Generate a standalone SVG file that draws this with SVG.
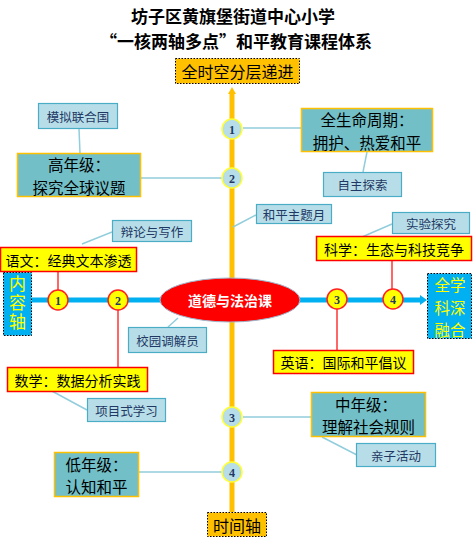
<svg xmlns="http://www.w3.org/2000/svg" width="475" height="543" viewBox="0 0 475 543">
<style>
text{font-family:"Noto Sans CJK SC","Liberation Sans",sans-serif;text-anchor:middle;dominant-baseline:central}
.title{font-size:17px;font-weight:bold;fill:#000}
.axisbox{fill:#FFC000;stroke:#000;stroke-width:1;stroke-dasharray:1.5 1.5}
.axistxt{font-size:16px;fill:#000}
.lb{fill:#B7DEE8;stroke:#4BACC6;stroke-width:1.2}
.lbt{font-size:12.5px;fill:#1F3864}
.tb{fill:#72BFC7;stroke:#FFC000;stroke-width:1.5}
.tbt{font-size:15.5px;fill:#000}
.yb{fill:#FFFF00;stroke:#FF0000;stroke-width:1.5}
.ybt{font-size:14px;fill:#000}
.bl{fill:#00B0F0;stroke:#000;stroke-width:1;stroke-dasharray:1.5 1.5}
.blt{font-size:15.5px;fill:#FFFF00}
.vt{font-size:17px;fill:#FFFF00;writing-mode:vertical-rl;text-orientation:upright;letter-spacing:2px}
.vc{fill:#B7DEE8;stroke:#FFFF33;stroke-width:1.5}
.hc{fill:#FFFF00;stroke:#FF2020;stroke-width:1.5}
.num{font-family:"Liberation Serif",serif;font-weight:bold;font-size:12px;fill:#1F3864}
.cl{stroke:#92CDDC;stroke-width:1.5;fill:none}
.rl{stroke:#FF0000;stroke-width:1.2;fill:none}
</style>
<rect width="475" height="543" fill="#fff"/>
<g id="title">
<text class="title" x="233" y="15.5">坊子区黄旗堡街道中心小学</text>
<text class="title" x="236" y="40.5">“一核两轴多点”和平教育课程体系</text>
</g>
<g id="connectors">
<line x1="232" y1="93" x2="232" y2="512" stroke="#FFC000" stroke-width="5"/>
<polygon points="232,87 228,94 236,94" fill="#FFC000"/>
<line x1="32" y1="300" x2="421" y2="300" stroke="#00B0F0" stroke-width="5"/>
<polygon points="427,300 420,295 420,305" fill="#00B0F0"/>
<line class="cl" x1="79" y1="129" x2="80" y2="153"/>
<line class="cl" x1="141" y1="178" x2="222" y2="178"/>
<line class="cl" x1="243" y1="128" x2="301" y2="128"/>
<line class="cl" x1="367" y1="152" x2="363" y2="172"/>
<line class="cl" x1="233" y1="227" x2="256" y2="215"/>
<line class="cl" x1="362" y1="237" x2="392" y2="224"/>
<line class="cl" x1="82" y1="244" x2="112" y2="232"/>
<line class="cl" x1="178" y1="318" x2="168" y2="327"/>
<line class="cl" x1="50" y1="390" x2="87" y2="410"/>
<line class="cl" x1="243" y1="417" x2="312" y2="417"/>
<line class="cl" x1="322" y1="437" x2="357" y2="455"/>
<line class="cl" x1="139" y1="472" x2="222" y2="472"/>
<line class="rl" x1="58" y1="272" x2="58" y2="290"/>
<line class="rl" x1="118" y1="310" x2="118" y2="367"/>
<line class="rl" x1="337" y1="309" x2="337" y2="350"/>
<line class="rl" x1="392" y1="261" x2="392" y2="289"/>
</g>
<g id="top-axis">
<rect class="axisbox" x="175.5" y="58.5" width="124" height="25"/>
<text class="axistxt" x="237.5" y="71">全时空分层递进</text>
</g>
<g id="bottom-axis">
<rect class="axisbox" x="207.5" y="512.5" width="59" height="24"/>
<text class="axistxt" x="237" y="524.5">时间轴</text>
</g>
<g id="content-axis">
<rect class="bl" x="3.5" y="272.5" width="28" height="63"/>
<text class="vt" x="17.5" y="304">内容轴</text>
</g>
<g id="fusion">
<rect class="bl" x="427.5" y="273.5" width="44" height="65"/>
<text class="blt" x="450" y="284">全学</text>
<text class="blt" x="450" y="306.5">科深</text>
<text class="blt" x="450" y="329">融合</text>
</g>
<g id="core">
<ellipse cx="230" cy="300" rx="70" ry="22" fill="#FF0000" stroke="#9FB6CC" stroke-width="1"/>
<text x="230" y="300" style="font-size:14px;font-weight:bold;fill:#fff">道德与法治课</text>
</g>
<g id="vc1"><circle class="vc" cx="232" cy="129" r="10"/><text class="num" x="232" y="129.5">1</text></g>
<g id="vc2"><circle class="vc" cx="232" cy="178" r="10"/><text class="num" x="232" y="178.5">2</text></g>
<g id="vc3"><circle class="vc" cx="232" cy="417" r="10"/><text class="num" x="232" y="417.5">3</text></g>
<g id="vc4"><circle class="vc" cx="232" cy="472" r="10"/><text class="num" x="232" y="472.5">4</text></g>
<g id="hc1"><circle class="hc" cx="58" cy="300" r="10"/><text class="num" x="58" y="300.5">1</text></g>
<g id="hc2"><circle class="hc" cx="118" cy="300" r="10"/><text class="num" x="118" y="300.5">2</text></g>
<g id="hc3"><circle class="hc" cx="337" cy="299" r="10"/><text class="num" x="337" y="299.5">3</text></g>
<g id="hc4"><circle class="hc" cx="393" cy="299" r="10"/><text class="num" x="393" y="299.5">4</text></g>
<g id="mnlhg"><rect class="lb" x="38.5" y="103.5" width="79" height="25"/><text class="lbt" x="78" y="116">模拟联合国</text></g>
<g id="high"><rect class="tb" x="17.5" y="153.5" width="123" height="43"/><text class="tbt" x="79" y="164">高年级：</text><text class="tbt" x="79" y="186.5">探究全球议题</text></g>
<g id="life"><rect class="tb" x="301.5" y="108.5" width="131" height="43"/><text class="tbt" x="367" y="119">全生命周期：</text><text class="tbt" x="367" y="141.5">拥护、热爱和平</text></g>
<g id="zzts"><rect class="lb" x="323.5" y="172.5" width="78" height="24"/><text class="lbt" x="362.5" y="184.5">自主探索</text></g>
<g id="hpztm"><rect class="lb" x="256.5" y="204.5" width="75" height="19"/><text class="lbt" x="294" y="214">和平主题月</text></g>
<g id="syts"><rect class="lb" x="392.5" y="212.5" width="77" height="21"/><text class="lbt" x="431" y="223">实验探究</text></g>
<g id="blxz"><rect class="lb" x="112.5" y="220.5" width="79" height="21"/><text class="lbt" x="152" y="231">辩论与写作</text></g>
<g id="yuwen"><rect class="yb" x="0.5" y="247.5" width="136" height="24"/><text class="ybt" x="68.5" y="259.5">语文：经典文本渗透</text></g>
<g id="kexue"><rect class="yb" x="316.5" y="236.5" width="155" height="24"/><text class="ybt" x="394" y="248.5">科学：生态与科技竞争</text></g>
<g id="xytjy"><rect class="lb" x="128.5" y="327.5" width="78" height="25"/><text class="lbt" x="167.5" y="340">校园调解员</text></g>
<g id="yingyu"><rect class="yb" x="273.5" y="350.5" width="140" height="23"/><text class="ybt" x="343.5" y="362">英语：国际和平倡议</text></g>
<g id="shuxue"><rect class="yb" x="7.5" y="367.5" width="140" height="24"/><text class="ybt" x="77.5" y="379.5">数学：数据分析实践</text></g>
<g id="xmsxx"><rect class="lb" x="87.5" y="398.5" width="78" height="23"/><text class="lbt" x="126.5" y="410">项目式学习</text></g>
<g id="mid"><rect class="tb" x="311.5" y="392.5" width="114" height="44"/><text class="tbt" x="366" y="403.5">中年级：</text><text class="tbt" x="368.5" y="426">理解社会规则</text></g>
<g id="qzhd"><rect class="lb" x="356.5" y="443.5" width="79" height="23"/><text class="lbt" x="396" y="455">亲子活动</text></g>
<g id="low"><rect class="tb" x="54.5" y="452.5" width="84" height="44"/><text class="tbt" x="96.5" y="463.5">低年级：</text><text class="tbt" x="96.5" y="486">认知和平</text></g>
</svg>
